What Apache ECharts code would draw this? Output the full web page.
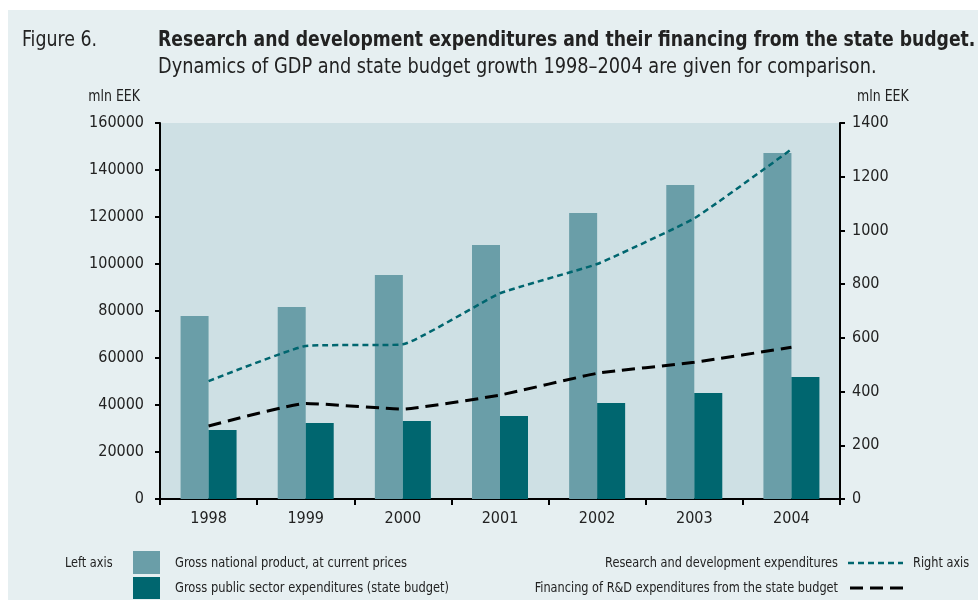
<!DOCTYPE html>
<html><head><meta charset="utf-8">
<script src="https://cdn.jsdelivr.net/npm/echarts@6/dist/echarts.min.js"></script>
<style>html,body{margin:0;padding:0;background:#fff}#c{width:978px;height:606px}</style>
</head><body><div id="c"></div>
<script>
const years = ['1998','1999','2000','2001','2002','2003','2004'];
const gdp = [77900, 81700, 95300, 108100, 121700, 133600, 147200];
const stateBudget = [29400, 32300, 33200, 35300, 40900, 45100, 51900];
const rdExp = [439, 570, 576, 766, 875, 1045, 1302];
const rdFinancing = [272, 356, 335, 387, 468, 509, 565];
const leftAxisTicks = [0, 160000, 20000];
const rightAxisTicks = [0, 1400, 200];
const names = ['Gross national product, at current prices','Gross public sector expenditures (state budget)','Research and development expenditures','Financing of R&D expenditures from the state budget'];
const figLabel = 'Figure 6.';
const titleText = 'Research and development expenditures and their financing from the state budget.';
const subText = 'Dynamics of GDP and state budget growth 1998\u20132004 are given for comparison.';
const unitText = 'mln EEK';
const leftAxisText = 'Left axis', rightAxisText = 'Right axis';

const FF = "'Liberation Sans Narrow','DejaVu Sans Condensed','Roboto Condensed',sans-serif";
const C_BG = '#e6eff1', C_PLOT = '#cee0e4', C_GDP = '#6a9ea8', C_ST = '#00666f', C_TXT = '#222';

const chart = echarts.init(document.getElementById('c'));
const txt = (x, y, t, o, sx) => ({type:'text', x, y, scaleX:sx||1, style:Object.assign({text:t, fill:C_TXT, font:'15px ' + FF, textVerticalAlign:'middle'}, o||{})});
const plain = v => String(v);
chart.setOption({
  backgroundColor:'#fff',
  animation:false,
  grid:{left:160, right:138, top:123, bottom:107, show:true, backgroundColor:C_PLOT, borderWidth:0},
  xAxis:{type:'category', data:years,
    axisLine:{lineStyle:{color:'#000', width:2}},
    axisTick:{show:true, length:6, lineStyle:{color:'#000', width:2}},
    axisLabel:{color:C_TXT, fontFamily:FF, fontSize:16, margin:12}},
  yAxis:[
    {type:'value', min:leftAxisTicks[0], max:leftAxisTicks[1], interval:leftAxisTicks[2], splitLine:{show:false},
     axisLine:{show:true, lineStyle:{color:'#000', width:2}},
     axisTick:{show:true, length:5, lineStyle:{color:'#000', width:2}},
     axisLabel:{color:C_TXT, fontFamily:FF, fontSize:16, margin:16, formatter:plain}},
    {type:'value', min:rightAxisTicks[0], max:rightAxisTicks[1], interval:rightAxisTicks[2], splitLine:{show:false},
     axisLine:{show:true, lineStyle:{color:'#000', width:2}},
     axisTick:{show:true, length:5, lineStyle:{color:'#000', width:2}},
     axisLabel:{color:C_TXT, fontFamily:FF, fontSize:16, margin:12, formatter:plain}}
  ],
  series:[
    {name:names[0], type:'bar', data:gdp, barWidth:28, barGap:'0%', itemStyle:{color:C_GDP}},
    {name:names[1], type:'bar', data:stateBudget, barWidth:28, barGap:'0%', itemStyle:{color:C_ST}},
    {name:names[2], type:'line', yAxisIndex:1, data:rdExp, smooth:0.12, symbol:'none', lineStyle:{color:'#00666f', width:2.5, type:[6,4]}},
    {name:names[3], type:'line', yAxisIndex:1, data:rdFinancing, smooth:0.12, symbol:'none', lineStyle:{color:'#000', width:3, type:[13,7]}}
  ],
  graphic:[
    {type:'rect', z:-10, silent:true, shape:{x:8, y:10, width:970, height:590}, style:{fill:C_BG}},
    txt(22, 41, figLabel, {font:'21px ' + FF}, 0.92),
    txt(158, 41, titleText, {font:'bold 21px ' + FF}, 0.912),
    txt(158, 68, subText, {font:'21px ' + FF}, 0.94),
    txt(140, 97, unitText, {textAlign:'right', font:'15px ' + FF}, 0.93),
    txt(857, 97, unitText, {font:'15px ' + FF}, 0.93),
    txt(65, 563, leftAxisText, {font:'14px ' + FF}, 0.9),
    {type:'rect', shape:{x:133, y:551, width:27, height:23}, style:{fill:C_GDP}},
    {type:'rect', shape:{x:133, y:577, width:27, height:22}, style:{fill:C_ST}},
    txt(175, 563, names[0], {font:'14px ' + FF}, 0.91),
    txt(175, 588, names[1], {font:'14px ' + FF}, 0.91),
    txt(838, 563, names[2], {textAlign:'right', font:'14px ' + FF}, 0.9),
    txt(838, 588, names[3], {textAlign:'right', font:'14px ' + FF}, 0.9),
    {type:'line', shape:{x1:848, y1:563, x2:903, y2:563}, style:{stroke:'#00666f', lineWidth:2.5, lineDash:[6,4]}},
    {type:'line', shape:{x1:850, y1:588, x2:903, y2:588}, style:{stroke:'#000', lineWidth:3, lineDash:[13,7]}},
    txt(913, 563, rightAxisText, {font:'14px ' + FF}, 0.9)
  ]
});
</script></body></html>
